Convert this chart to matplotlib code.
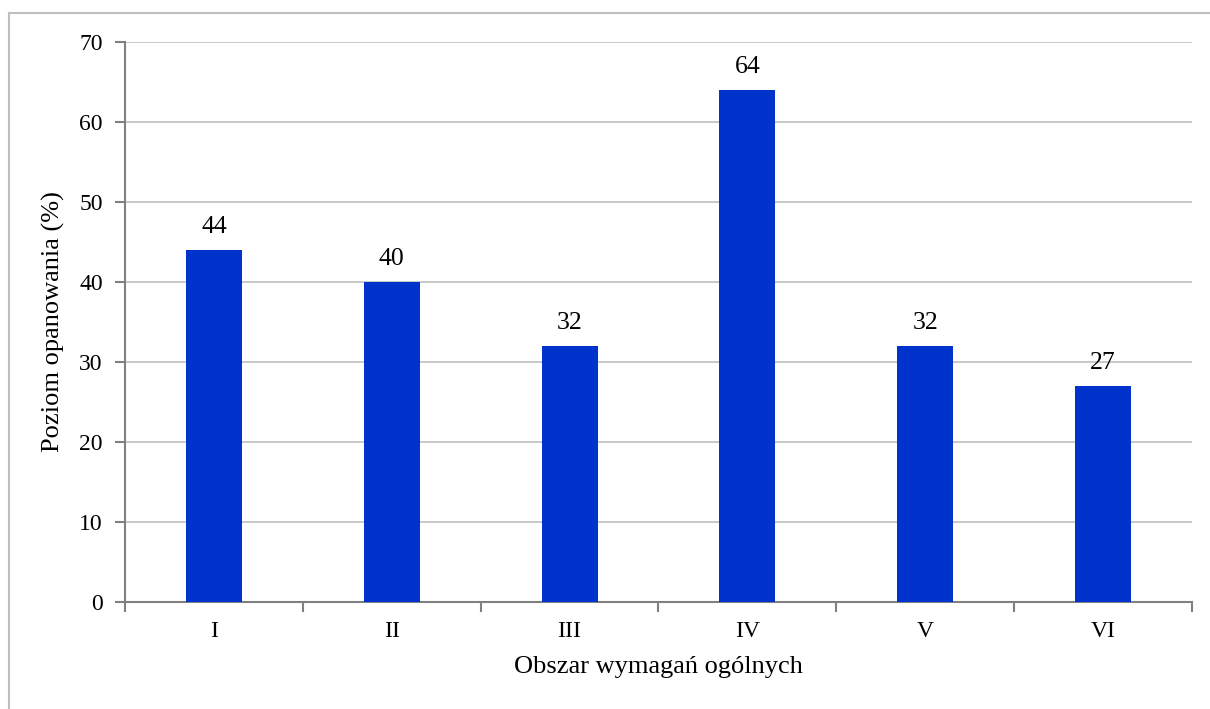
import matplotlib
matplotlib.use("Agg")
import matplotlib.pyplot as plt
from matplotlib.lines import Line2D
import numpy as np

categories = ["I", "II", "III", "IV", "V", "VI"]
values = [44, 40, 32, 64, 32, 27]

plt.rcParams['font.family'] = ['Liberation Serif', 'DejaVu Serif']

W, H = 1210, 709
TICK_FS = 17
DATA_FS = 18.5
LABEL_FS = 19
fig = plt.figure(figsize=(W/100, H/100), dpi=100)
ax = fig.add_axes([125/W, 1-602/H, (1192-125)/W, (602-42)/H])

x = np.arange(len(categories))
ax.bar(x, values, width=0.315, color="#0033CC", zorder=3)
for xi, v in zip(x, values):
    ax.text(xi, v + 1.5, str(v), ha="center", va="bottom", fontsize=DATA_FS, color="black")

ax.set_xlim(-0.5, len(categories) - 0.5)
ax.set_ylim(0, 70)
ax.set_yticks(range(0, 71, 10))
ax.yaxis.grid(True, color="#BFBFBF", linewidth=1.2, zorder=0)
ax.set_axisbelow(True)

ax.set_xticks(np.arange(-0.5, len(categories), 1.0))
ax.set_xticklabels([])
ax.set_xticks(x, minor=True)
ax.set_xticklabels(categories, minor=True)
ax.tick_params(axis="x", which="minor", length=0, pad=14, labelsize=TICK_FS)
ax.tick_params(axis="x", which="major", length=7, width=1.5, color="#808080", direction="out")
ax.tick_params(axis="y", length=7, width=1.5, color="#808080", direction="out", labelsize=TICK_FS, pad=9)

for s in ["top", "right"]:
    ax.spines[s].set_visible(False)
for s in ["left", "bottom"]:
    ax.spines[s].set_color("#808080")
    ax.spines[s].set_linewidth(1.5)

ax.set_xlabel("Obszar wymagań ogólnych", fontsize=LABEL_FS, labelpad=10)
ax.set_ylabel("Poziom opanowania (%)", fontsize=LABEL_FS, labelpad=10)

# outer chart border
fig.add_artist(Line2D([9/W, 9/W], [0, 1-13/H], color="#BFBFBF", linewidth=1.5, transform=fig.transFigure))
fig.add_artist(Line2D([9/W, 1], [1-13/H, 1-13/H], color="#BFBFBF", linewidth=1.5, transform=fig.transFigure))

fig.savefig("out.png", dpi=100)
